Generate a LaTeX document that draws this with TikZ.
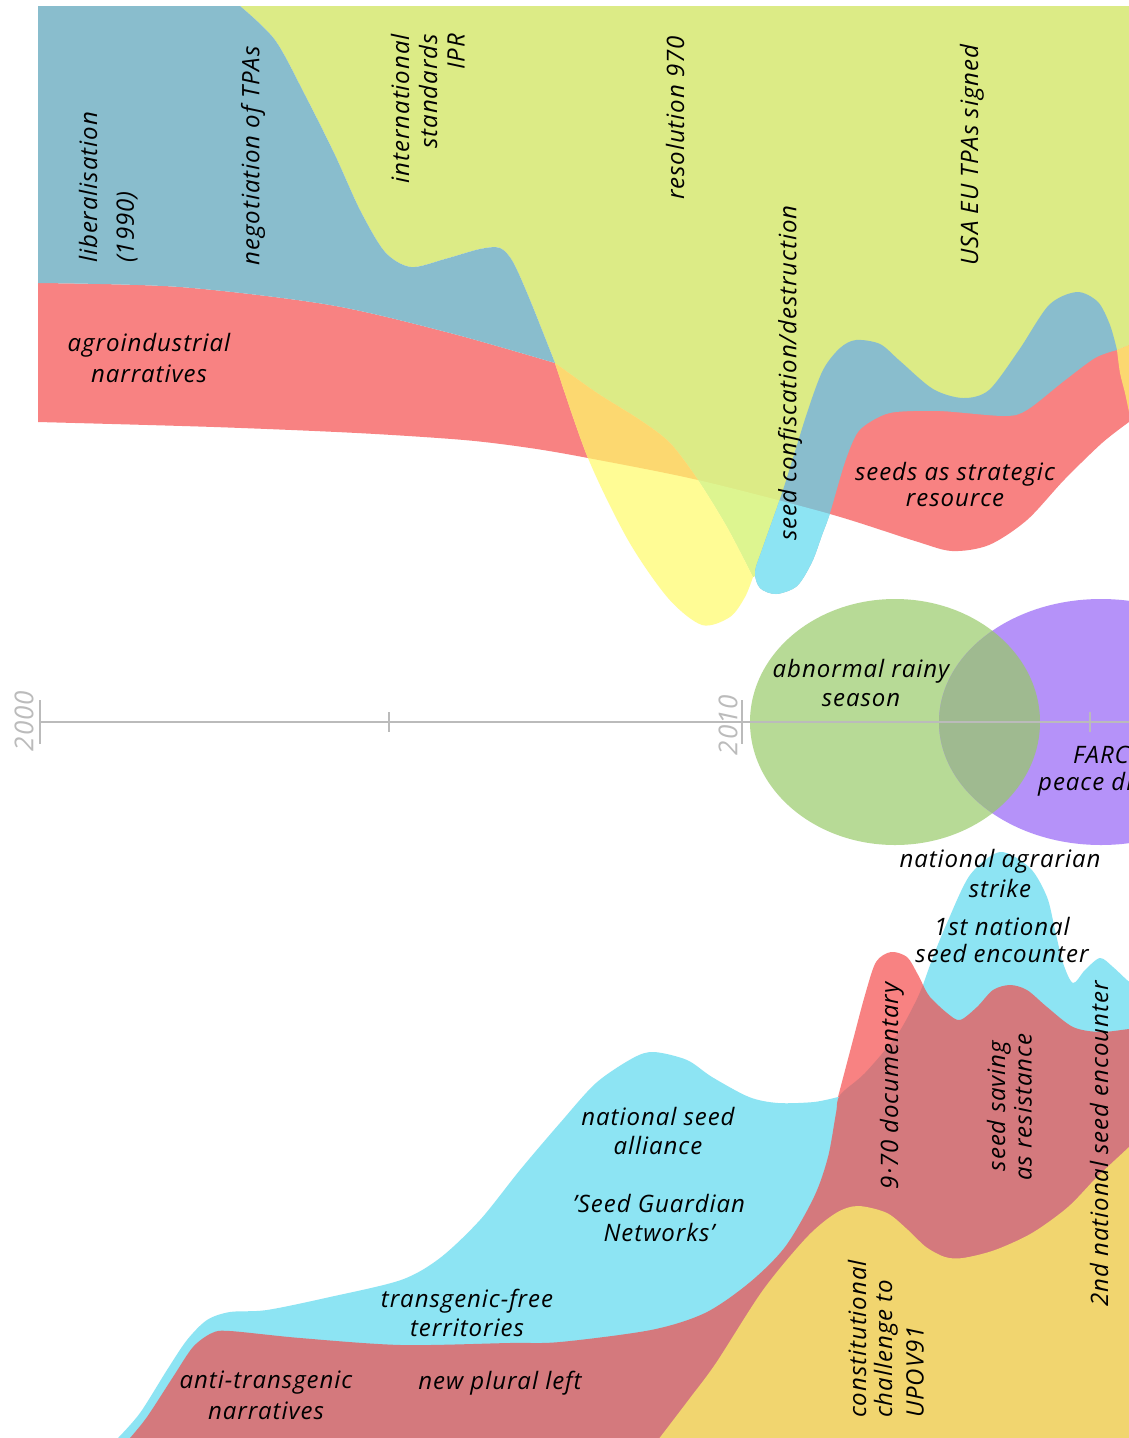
\documentclass[tikz,border=0pt]{standalone}
\usepackage{fontspec}
\newfontfamily\hand{Open Sans}[LetterSpace=4]

\definecolor{gyel}{HTML}{DCEB86}
\definecolor{blu}{HTML}{89BDCD}
\definecolor{rd}{HTML}{F88282}
\definecolor{orng}{HTML}{FCD870}
\definecolor{yel}{HTML}{FFFC95}
\definecolor{pgr}{HTML}{DDF590}
\definecolor{cya}{HTML}{8DE4F3}
\definecolor{dus}{HTML}{D4797D}
\definecolor{yeltwo}{HTML}{F1D56F}
\definecolor{grn}{HTML}{B7DA96}
\definecolor{pur}{HTML}{B592F9}
\definecolor{ovl}{HTML}{9FBA90}
\definecolor{axisgray}{HTML}{BBBBBB}

% ---- upper streams (each curve continues the current path) ----------------
\def\curveAone{-- plot[smooth] coordinates {(240,6) (275,40) (305,95) (335,155) (360,210) (385,252) (411,267) (445,259) (480,249) (500,248) (513,262) (530,300) (555,363)}}
\def\curveAtwo{-- plot[smooth] coordinates {(555,363) (588,458) (628,540) (668,598) (702,625) (730,617) (745,597) (753,577)}}
\def\curveB{-- plot[smooth] coordinates {(555,363) (597,393) (640,420) (670,443) (698,480) (727,527) (753,577)}}
\def\curveBrev{-- plot[smooth] coordinates {(753,577) (727,527) (698,480) (670,443) (640,420) (597,393) (555,363)}}
\def\curveTR{-- plot[smooth] coordinates {(38,283) (180,287) (330,305) (450,333) (555,363)}}
\def\curveTRrev{-- plot[smooth] coordinates {(555,363) (450,333) (330,305) (180,287) (38,283)}}
\def\curveBR{-- plot[smooth] coordinates {(38,422) (214,427) (357,433) (464,440) (530,448) (588,458) (698,480) (830,514) (915,541) (952,551) (989,545) (1027,520) (1064,480) (1102,443) (1129,422)}}
\def\curveBRrev{-- plot[smooth] coordinates {(1129,422) (1102,443) (1064,480) (1027,520) (989,545) (952,551) (915,541) (830,514) (698,480) (588,458) (530,448) (464,440) (357,433) (214,427) (38,422)}}

\def\pathR{(38,283) \curveTR -- (650,400) -- (850,400) -- (1000,392) -- (1080,345) -- (1117,350) -- (1129,345) -- (1129,422) \curveBRrev -- cycle}
\def\pathG{(240,6) \curveAone \curveB -- (785,560) -- (810,480) -- (835,400) -- (870,380) -- (930,398) -- (990,402) -- (1030,385) -- (1080,350) -- (1117,350) -- (1129,345) -- (1140,345) -- (1140,6) -- cycle}
\def\pathBL{(38,6) \curveAone \curveTRrev -- cycle}
\def\pathL{(555,363) \curveAtwo \curveBrev -- cycle}
\def\pathS{(1117,350) -- plot[smooth] coordinates {(1117,350) (1110,325) (1098,302) (1077,292) (1049,305) (1019,350) (989,390) (963,398) (933,389) (900,361) (880,344) (856,340) (840,348) (823,370) (807,413) (783,490) (763,547) (755,572) (760,588) (776,594) (797,586) (812,562) (822,535) (830,513) (845,462) (858,432) (877,418) (896,412) (940,411) (1004,416) (1027,410) (1064,381) (1095,358) (1117,350)} -- cycle}
\def\aboveBR{(0,-10) -- (0,422) \curveBR -- (1140,422) -- (1140,-10) -- cycle}
\def\belowBR{(0,700) -- (0,422) \curveBR -- (1140,422) -- (1140,700) -- cycle}

% ---- lower streams -------------------------------------------------------
\def\pathCH{(923,985) -- plot[smooth] coordinates {(923,985) (933,957) (947,923) (970,875) (1000,852) (1030,868) (1047,897) (1055,930) (1063,963) (1073,983) (1085,970) (1100,958) (1113,967) (1127,980) (1140,990)} -- (1140,1080) -- (915,1080) -- cycle}
\def\pathRS{(838,1097) -- plot[smooth] coordinates {(838,1097) (853,1040) (865,995) (876,962) (891,952) (907,957) (917,973) (923,985) (928,1000)} -- (900,1090) -- (850,1110) -- cycle}
\def\pathCB{(118,1438) -- plot[smooth] coordinates {(118,1438) (140,1413) (167,1370) (187,1340) (207,1320) (230,1312) (267,1310) (330,1297) (401,1280) (440,1258) (480,1220) (520,1170) (560,1123) (596,1083) (633,1058) (654,1052) (687,1060) (712,1077) (749,1097) (778,1103) (814,1102) (838,1097)} -- (880,1100) -- (880,1440) -- (118,1440) -- cycle}
\def\pathD{(130,1438) -- plot[smooth] coordinates {(130,1438) (147,1417) (173,1377) (193,1347) (212,1333) (230,1331) (300,1338) (401,1345) (509,1343) (560,1342) (651,1330) (705,1313) (749,1283) (785,1247) (814,1197) (828,1157) (836,1113) (840,1095) (865,1073) (897,1035) (915,1003) (923,985)} -- plot[smooth] coordinates {(923,985) (930,997) (947,1013) (960,1020) (977,1007) (993,990) (1010,985) (1027,990) (1047,1007) (1073,1027) (1100,1032) (1129,1029) (1140,1028)} -- (1140,1440) -- (130,1440) -- cycle}
\def\pathY{(658,1440) -- plot[smooth] coordinates {(658,1440) (690,1398) (716,1363) (763,1290) (807,1237) (836,1213) (858,1206) (887,1213) (908,1230) (926,1247) (945,1257) (963,1258) (995,1250) (1032,1233) (1068,1207) (1097,1177) (1129,1147) (1140,1136)} -- (1140,1440) -- cycle}

\tikzset{
  lbl/.style={font=\hand\itshape\fontsize{24}{28}\selectfont, inner sep=0pt, text=black},
  rlbl/.style={lbl, rotate=90},
  yearlbl/.style={font=\hand\itshape\fontsize{26}{30}\selectfont, inner sep=0pt, text=axisgray, rotate=90},
  axisline/.style={draw=axisgray, line width=1.6pt},
}

\begin{document}
\begin{tikzpicture}[x=1pt,y=-1pt]
\useasboundingbox (0,0) rectangle (1129,1438);
\clip (0,0) rectangle (1129,1438);
\fill[white] (0,0) rectangle (1129,1438);

% upper streams
\fill[rd] \pathR;
\fill[gyel] \pathG;
\begin{scope}
  \clip \pathG;
  \fill[pgr] \belowBR;
\end{scope}
\fill[blu] \pathBL;
\fill[yel] \pathL;
\begin{scope}
  \clip \pathL;
  \fill[orng] \aboveBR;
\end{scope}
\fill[blu] \pathS;
\begin{scope}
  \clip \pathS;
  \fill[cya] \belowBR;
\end{scope}
\fill[orng] (1117,350) -- (1129,345) -- (1140,345) -- (1140,412) -- (1129,412) -- plot[smooth] coordinates {(1129,412) (1125,393) (1120,373) (1117,350)} -- cycle;

% events around 2010-2015
\fill[grn] (895,722) ellipse [x radius=145pt, y radius=123pt];
\fill[pur] (1101,722) ellipse [x radius=162pt, y radius=123pt];
\begin{scope}
  \clip (895,722) ellipse [x radius=145pt, y radius=123pt];
  \fill[ovl] (1101,722) ellipse [x radius=162pt, y radius=123pt];
\end{scope}

% time axis
\coordinate (a0) at (40,722);
\coordinate (a1) at (1140,722);
\draw[axisline] (a0) -- (a1);
\draw[axisline] (40,700) -- (40,744);
\draw[axisline] (389,712) -- (389,732);
\draw[axisline] (742,700) -- (742,744);
\draw[axisline] (1090,712) -- (1090,732);
\node[yearlbl] (y2000) at (24,721) {2000};
\node[yearlbl] (y2010) at (728,725) {2010};

% lower streams
\fill[cya] \pathCH;
\fill[rd] \pathRS;
\fill[cya] \pathCB;
\fill[dus] \pathD;
\fill[yeltwo] \pathY;

% labels, upper part
\node[rlbl, anchor=west] (lib1) at (88,263) {liberalisation};
\node[rlbl, anchor=west] (lib2) at (127,263) {(1990)};
\node[rlbl] (neg) at (253,156) {negotiation of TPAs};
\node[rlbl, anchor=east] (ipr1) at (400,34) {international};
\node[rlbl, anchor=east] (ipr2) at (428,34) {standards};
\node[rlbl, anchor=east] (ipr3) at (456,34) {IPR};
\node[rlbl] (res) at (675,118) {resolution 970};
\node[rlbl] (conf) at (790,373) {seed confiscation/destruction};
\node[rlbl] (usa) at (972,155) {USA EU TPAs signed};
\node[lbl] (agro1) at (149,345) {agroindustrial};
\node[lbl] (agro2) at (149,374) {narratives};
\node[lbl] (strat1) at (955,474) {seeds as strategic};
\node[lbl] (strat2) at (955,500) {resource};

% labels, middle
\node[lbl] (rain1) at (861,671) {abnormal rainy};
\node[lbl] (rain2) at (861,700) {season};
\node[lbl, anchor=west] (farc1) at (1073,755) {FARC-EP};
\node[lbl, anchor=west] (farc2) at (1038,784) {peace dialogues};

% labels, lower part
\node[lbl] (strike1) at (1000,861) {national agrarian};
\node[lbl] (strike2) at (1000,888) {strike};
\node[lbl] (enc1) at (1002,926) {1st national};
\node[lbl] (enc2) at (1002,953) {seed encounter};
\node[lbl] (all1) at (658,1116) {national seed};
\node[lbl] (all2) at (658,1145) {alliance};
\node[lbl] (sgn1) at (659,1203) {’Seed Guardian};
\node[lbl] (sgn2) at (659,1232) {Networks’};
\node[lbl] (tf1) at (467,1301) {transgenic-free};
\node[lbl] (tf2) at (467,1328) {territories};
\node[lbl] (at1) at (266,1383) {anti-transgenic};
\node[lbl] (at2) at (266,1411) {narratives};
\node[lbl] (npl) at (500,1383) {new plural left};
\node[rlbl] (doc) at (892,1086) {9·70 documentary};
\node[rlbl] (sav1) at (999,1106) {seed saving};
\node[rlbl] (sav2) at (1023,1107) {as resistance};
\node[rlbl] (enc3) at (1099,1144) {2nd national seed encounter};
\node[rlbl, anchor=west] (upov1) at (857,1418) {constitutional};
\node[rlbl, anchor=west] (upov2) at (886,1418) {challenge to};
\node[rlbl, anchor=west] (upov3) at (915,1418) {UPOV91};
\end{tikzpicture}
\end{document}
